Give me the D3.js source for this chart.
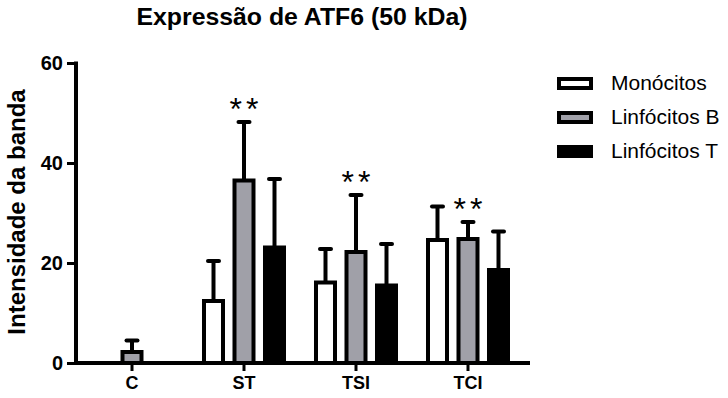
<!DOCTYPE html>
<html>
<head>
<meta charset="utf-8">
<script src="https://cdn.jsdelivr.net/npm/d3@7"></script>
<style>
  body { margin: 0; background: #fff; }
  svg { display: block; font-family: 'Liberation Sans', Arial, sans-serif; }
</style>
</head>
<body>
<svg id="chart" width="728" height="398"></svg>
<script>
const categories = ['C', 'ST', 'TSI', 'TCI'];
const series = ['Monócitos', 'Linfócitos B', 'Linfócitos T'];
const monocitos = [null, 12.4, 16.1, 24.6];
const monocitosErr = [null, 8.0, 6.7, 6.7];
const linfocitosB = [2.2, 36.5, 22.2, 24.8];
const linfocitosBErr = [2.3, 11.7, 11.4, 3.4];
const linfocitosT = [null, 23.1, 15.5, 18.6];
const linfocitosTErr = [null, 13.7, 8.3, 7.7];
const signif = ['', '**', '**', '**'];
const yTicks = [0, 20, 40, 60];

const colors = ['#ffffff', '#a0a0a8', '#000000'];
const means = [monocitos, linfocitosB, linfocitosT];
const errs = [monocitosErr, linfocitosBErr, linfocitosTErr];

const rows = [];
series.forEach((s, si) => {
  categories.forEach((c, ci) => {
    if (means[si][ci] != null) rows.push({ cat: c, s, si, v: means[si][ci], e: errs[si][ci] });
  });
});

const svg = d3.select('#chart');

const x0 = d3.scaleBand()
  .domain(categories)
  .range([76, 530])
  .paddingInner(0)
  .paddingOuter(0.0268)
  .align(0);
const x1 = d3.scalePoint()
  .domain(series)
  .range([-30.5, 30.5]);
const y = d3.scaleLinear()
  .domain([0, 60])
  .range([363, 63]);
const barW = 19;
const cx = d => x0(d.cat) + x0.bandwidth() / 2 + x1(d.s);

// bars
svg.append('g').selectAll('rect')
  .data(rows)
  .enter()
  .append('rect')
  .attr('x', d => cx(d) - barW / 2)
  .attr('y', d => y(d.v))
  .attr('width', barW)
  .attr('height', d => y(0) - y(d.v))
  .attr('fill', d => colors[d.si])
  .attr('stroke', '#000')
  .attr('stroke-width', 4);

// error bars (upper only)
const eb = svg.append('g').attr('stroke', '#000').attr('stroke-width', 4);
eb.selectAll('line.v')
  .data(rows)
  .enter()
  .append('line')
  .attr('class', 'v')
  .attr('x1', cx).attr('x2', cx)
  .attr('y1', d => y(d.v))
  .attr('y2', d => y(d.v + d.e));
eb.selectAll('line.cap')
  .data(rows)
  .enter()
  .append('line')
  .attr('class', 'cap')
  .attr('stroke-linecap', 'round')
  .attr('x1', d => cx(d) - 5.5).attr('x2', d => cx(d) + 5.5)
  .attr('y1', d => y(d.v + d.e))
  .attr('y2', d => y(d.v + d.e));

// significance marks over Linfócitos B
svg.append('g').selectAll('text')
  .data(rows.filter(d => d.si === 1 && signif[categories.indexOf(d.cat)]))
  .enter()
  .append('text')
  .attr('x', d => cx(d) + 2)
  .attr('y', d => y(d.v + d.e) - 2)
  .attr('text-anchor', 'middle')
  .attr('font-size', 32)
  .attr('letter-spacing', 4)
  .text(d => signif[categories.indexOf(d.cat)]);

// axes
const xAxis = d3.axisBottom(x0).tickSize(8).tickSizeOuter(0).tickPadding(5);
const gx = svg.append('g').attr('transform', `translate(0, ${y(0)})`).call(xAxis);
gx.select('.domain').attr('stroke-width', 4).attr('d', 'M74,0H530');
gx.selectAll('.tick line').attr('stroke-width', 3);
gx.selectAll('.tick text')
  .attr('font-size', 18).attr('font-weight', 'bold').attr('fill', '#000')
  .attr('font-family', "'Liberation Sans', Arial, sans-serif");

const yAxis = d3.axisLeft(y).tickValues(yTicks).tickSize(9).tickSizeOuter(0).tickPadding(4);
const gy = svg.append('g').attr('transform', 'translate(76, 0)').call(yAxis);
gy.select('.domain').attr('stroke-width', 4).attr('d', 'M0,61.5V365');
gy.selectAll('.tick line').attr('stroke-width', 3);
gy.selectAll('.tick text')
  .attr('font-size', 20).attr('font-weight', 'bold').attr('fill', '#000')
  .attr('font-family', "'Liberation Sans', Arial, sans-serif");

// title
svg.append('text')
  .attr('transform', 'translate(302, 25) scale(1.08, 1)')
  .attr('text-anchor', 'middle')
  .attr('font-size', 23)
  .attr('font-weight', 'bold')
  .text('Expressão de ATF6 (50 kDa)');

// y label
svg.append('text')
  .attr('transform', 'translate(25, 212) rotate(-90)')
  .attr('text-anchor', 'middle')
  .attr('font-size', 24)
  .attr('font-weight', 'bold')
  .text('Intensidade da banda');

// legend
const legend = svg.append('g').selectAll('g')
  .data(series)
  .enter()
  .append('g')
  .attr('transform', (d, i) => `translate(559, ${79 + i * 34})`);
legend.append('rect')
  .attr('width', 32)
  .attr('height', 9)
  .attr('fill', (d, i) => colors[i])
  .attr('stroke', '#000')
  .attr('stroke-width', 4);
legend.append('text')
  .attr('x', 52)
  .attr('y', 11)
  .attr('font-size', 21)
  .text(d => d);
</script>
</body>
</html>
